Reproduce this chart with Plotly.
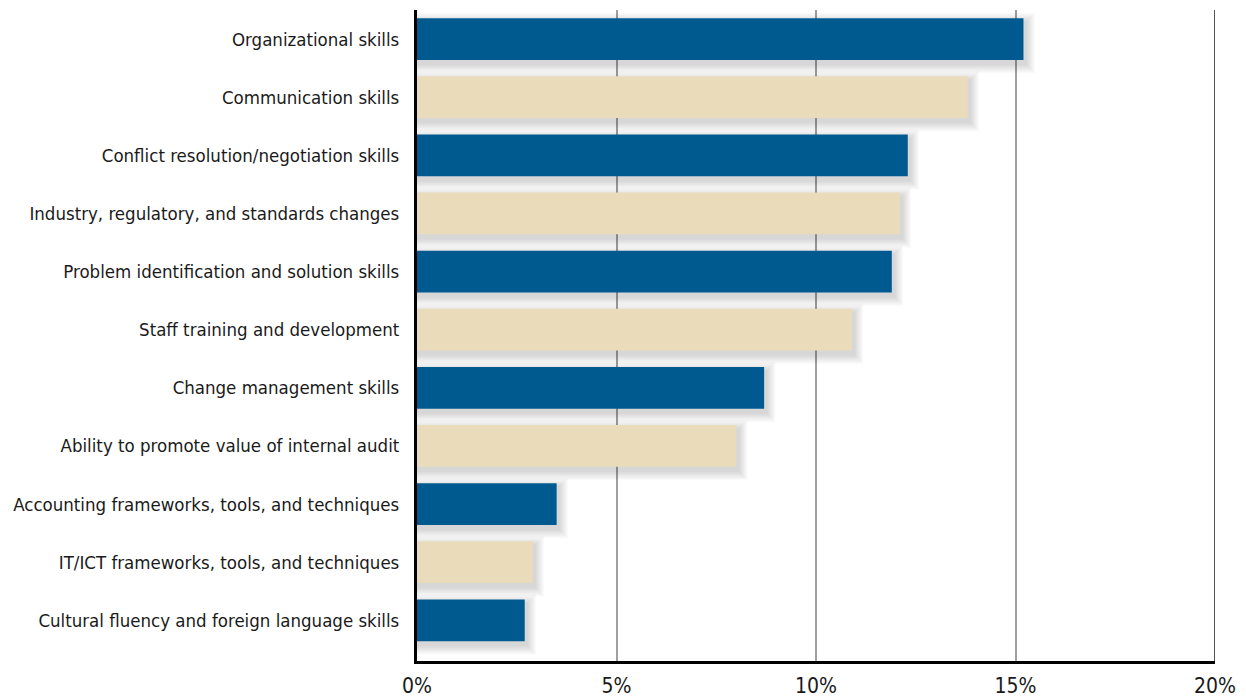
import plotly.graph_objects as go

skills = [
    "Organizational skills",
    "Communication skills",
    "Conflict resolution/negotiation skills",
    "Industry, regulatory, and standards changes",
    "Problem identification and solution skills",
    "Staff training and development",
    "Change management skills",
    "Ability to promote value of internal audit",
    "Accounting frameworks, tools, and techniques",
    "IT/ICT frameworks, tools, and techniques",
    "Cultural fluency and foreign language skills",
]
shares = [15.2, 13.8, 12.3, 12.1, 11.9, 10.9, 8.7, 8.0, 3.5, 2.9, 2.7]

BLUE = "#005a8f"
BEIGE = "#eadcba"
bar_colors = [BLUE if i % 2 == 0 else BEIGE for i in range(len(skills))]

FONT = "DejaVu Sans Condensed, Liberation Sans Narrow, DejaVu Sans"
WIDTH = 0.72

fig = go.Figure()

# soft drop shadow: many faint layers, each a little larger, nudged right and down
for k in range(8):
    grow = 0.04 * (8 - k)
    fig.add_trace(go.Bar(
        y=skills, x=[v + 0.06 + grow * 0.7 for v in shares], orientation="h",
        width=WIDTH + grow, offset=-(WIDTH + grow) / 2 + 0.07,
        marker=dict(color="rgba(0,0,0,0.02)", line=dict(width=0)),
        hoverinfo="skip", showlegend=False,
    ))

fig.add_trace(go.Bar(
    y=skills, x=shares, orientation="h",
    width=WIDTH, offset=-WIDTH / 2,
    marker=dict(color=bar_colors, line=dict(width=0)),
    showlegend=False,
))

fig.update_layout(
    width=1246, height=700,
    margin=dict(l=417, r=31, t=10, b=39),
    paper_bgcolor="white", plot_bgcolor="white",
    barmode="overlay",
    font=dict(family=FONT, size=18.5, color="#1a1a1a"),
    xaxis=dict(
        range=[0, 20], tickvals=[0, 5, 10, 15, 20],
        ticktext=["0%", "5%", "10%", "15%", "20%"],
        showgrid=True, gridcolor="#a0a0a0", gridwidth=2,
        zeroline=False, showline=True, linecolor="black", linewidth=3,
        ticks="", ticklabelstandoff=4, automargin=False,
        tickfont=dict(size=21),
    ),
    yaxis=dict(
        type="category", categoryorder="array", categoryarray=skills,
        range=[10.7, -0.5],
        showgrid=False, zeroline=False,
        showline=True, linecolor="black", linewidth=3,
        ticks="", ticklabelstandoff=11, automargin=False,
        tickfont=dict(size=18.5),
    ),
)

# right frame edge at 20%
fig.add_shape(type="line", xref="x", yref="paper", x0=20, x1=20, y0=0, y1=1,
              line=dict(color="#555555", width=2), layer="above")

fig.write_html("out.html")
